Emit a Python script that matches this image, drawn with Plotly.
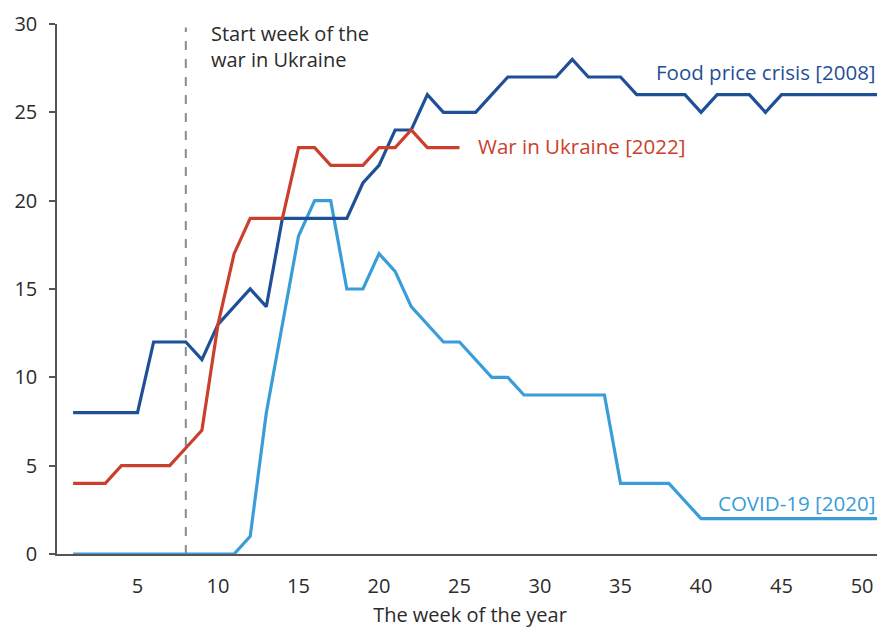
import plotly.graph_objects as go

weeks = list(range(1, 52))
food_2008 = [8, 8, 8, 8, 8, 12, 12, 12, 11, 13, 14, 15, 14, 19, 19, 19, 19, 19, 21, 22,
             24, 24, 26, 25, 25, 25, 26, 27, 27, 27, 27, 28, 27, 27, 27, 26, 26, 26, 26, 25,
             26, 26, 26, 25, 26, 26, 26, 26, 26, 26, 26]
war_weeks = list(range(1, 26))
war_2022 = [4, 4, 4, 5, 5, 5, 5, 6, 7, 13, 17, 19, 19, 19, 23, 23, 22, 22, 22, 23,
            23, 24, 23, 23, 23]
covid_2020 = [0, 0, 0, 0, 0, 0, 0, 0, 0, 0, 0, 1, 8, 13, 18, 20, 20, 15, 15, 17,
              16, 14, 13, 12, 12, 11, 10, 10, 9, 9, 9, 9, 9, 9, 4, 4, 4, 4, 3, 2,
              2, 2, 2, 2, 2, 2, 2, 2, 2, 2, 2]
x_ticks = [5, 10, 15, 20, 25, 30, 35, 40, 45, 50]
y_ticks = [0, 5, 10, 15, 20, 25, 30]
start_week = 8

C_FOOD = "#1f4f96"
C_WAR = "#c9412d"
C_COVID = "#3a9cd8"
FONT = "Open Sans"
TXT = "#2b2b2b"
FS = 20

fig = go.Figure()
fig.add_trace(go.Scatter(x=[start_week, start_week], y=[0, 29.8], mode="lines",
                         line=dict(color="#8a8a8a", width=2, dash="dash"),
                         hoverinfo="skip", showlegend=False))
fig.add_trace(go.Scatter(x=weeks, y=covid_2020, mode="lines", name="COVID-19 [2020]",
                         line=dict(color=C_COVID, width=3.2)))
fig.add_trace(go.Scatter(x=weeks, y=food_2008, mode="lines", name="Food price crisis [2008]",
                         line=dict(color=C_FOOD, width=3.2)))
fig.add_trace(go.Scatter(x=war_weeks, y=war_2022, mode="lines", name="War in Ukraine [2022]",
                         line=dict(color=C_WAR, width=3.2)))

fig.add_annotation(x=9.45, y=1.012, xref="x", yref="paper", xanchor="left", yanchor="top",
                   text="Start week of the<br>war in Ukraine", showarrow=False, align="left",
                   font=dict(family=FONT, size=FS, color=TXT))
fig.add_annotation(x=51.0, y=27.3, xref="x", yref="y", xanchor="right", yanchor="middle",
                   text="Food price crisis [2008]", showarrow=False,
                   font=dict(family=FONT, size=20.5, color=C_FOOD))
fig.add_annotation(x=26.0, y=23.1, xref="x", yref="y", xanchor="left", yanchor="middle",
                   text="War in Ukraine [2022]", showarrow=False,
                   font=dict(family=FONT, size=20.5, color=C_WAR))
fig.add_annotation(x=50.9, y=2.9, xref="x", yref="y", xanchor="right", yanchor="middle",
                   text="COVID-19 [2020]", showarrow=False,
                   font=dict(family=FONT, size=20.5, color=C_COVID))

# page body has an 8px margin, so the figure is shrunk by 8px and offsets reduced
fig.update_layout(
    width=877, height=621,
    margin=dict(l=49, r=2, t=12, b=75),
    paper_bgcolor="white", plot_bgcolor="white",
    showlegend=False,
    font=dict(family=FONT, size=FS, color=TXT),
)
fig.update_xaxes(range=[0, 51.3], tickvals=x_ticks, showgrid=False, zeroline=False,
                 showline=True, linecolor="#555555", linewidth=2, ticks="",
                 ticklabelstandoff=13, ticklabeloverflow="allow",
                 title=dict(text="The week of the year", standoff=10,
                            font=dict(family=FONT, size=FS, color=TXT)),
                 tickfont=dict(family=FONT, size=FS, color=TXT))
fig.update_yaxes(range=[0, 30], tickvals=y_ticks, showgrid=False, zeroline=False,
                 showline=True, linecolor="#555555", linewidth=1.5,
                 ticks="outside", ticklen=6, tickcolor="#555555", tickwidth=1.5,
                 ticklabelstandoff=8, ticklabeloverflow="allow",
                 tickfont=dict(family=FONT, size=FS, color=TXT))

fig.write_html("out.html")
